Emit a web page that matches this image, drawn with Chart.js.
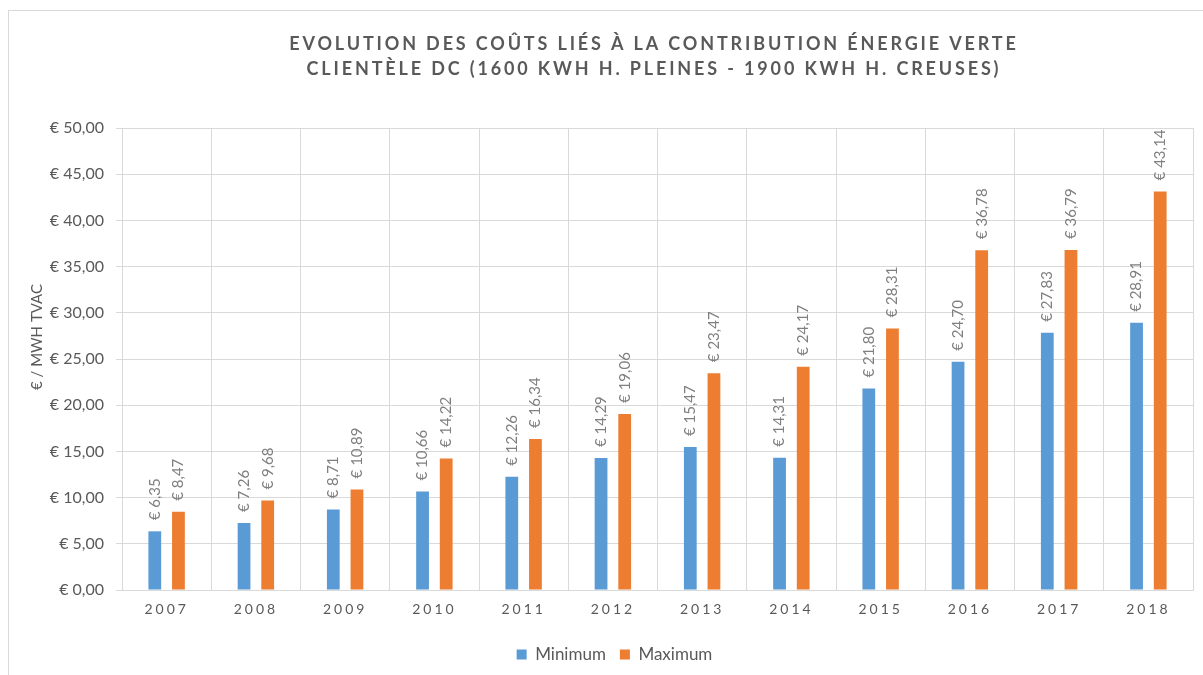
<!DOCTYPE html>
<html>
<head>
<meta charset="utf-8">
<script src="https://cdn.jsdelivr.net/npm/chart.js@4/dist/chart.umd.min.js"></script>
<style>
  html, body { margin: 0; padding: 0; background: #fff; }
  #chart { display: block; }
</style>
</head>
<body>
<canvas id="chart" width="1203" height="675"></canvas>
<script>
const years = ['2007', '2008', '2009', '2010', '2011', '2012', '2013', '2014', '2015', '2016', '2017', '2018'];
const minimum = [6.35, 7.26, 8.71, 10.66, 12.26, 14.29, 15.47, 14.31, 21.80, 24.70, 27.83, 28.91];
const maximum = [8.47, 9.68, 10.89, 14.22, 16.34, 19.06, 23.47, 24.17, 28.31, 36.78, 36.79, 43.14];
const titleLines = ['EVOLUTION DES COÛTS LIÉS À LA CONTRIBUTION ÉNERGIE VERTE', 'CLIENTÈLE DC (1600 KWH H. PLEINES - 1900 KWH H. CREUSES)'];
const yTitle = '€ / MWH TVAC';

const textColor = '#595959';
const gridColor = '#d9d9d9';
const fontFamily = 'Lato, "Open Sans", sans-serif';

function euro(v) {
  return '€ ' + v.toFixed(2).replace('.', ',');
}

// category axis with letter-spaced labels (like the Excel original)
class SpacedCategoryScale extends Chart.CategoryScale {
  drawLabels(chartArea) {
    const ctx = this.ctx;
    ctx.save();
    ctx.letterSpacing = '3px';
    super.drawLabels(chartArea);
    ctx.restore();
  }
}
SpacedCategoryScale.id = 'spacedCategory';
SpacedCategoryScale.defaults = Chart.CategoryScale.defaults;
Chart.register(SpacedCategoryScale);

const frame = {
  id: 'frame',
  beforeDraw(chart) {
    const ctx = chart.ctx;
    ctx.save();
    ctx.fillStyle = '#fff';
    ctx.fillRect(0, 0, chart.width, chart.height);
    ctx.strokeStyle = gridColor;
    ctx.lineWidth = 1;
    ctx.strokeRect(8.5, 10.5, 1300, 700);
    ctx.restore();
  },
  afterLayout(chart) {
    chart.legend.left += 18;
    chart.legend.right += 18;
  }
};

// title and y axis title, drawn by hand so they can be letter-spaced / placed like Excel
const texts = {
  id: 'texts',
  afterDraw(chart) {
    const ctx = chart.ctx;
    ctx.save();
    ctx.font = 'bold 18px ' + fontFamily;
    ctx.letterSpacing = '2.85px';
    ctx.fillStyle = textColor;
    ctx.textAlign = 'center';
    ctx.textBaseline = 'middle';
    titleLines.forEach((line, i) => ctx.fillText(line, 654, 44 + i * 25));
    ctx.letterSpacing = '0px';
    ctx.font = '15px ' + fontFamily;
    ctx.translate(37, 337);
    ctx.rotate(-Math.PI / 2);
    ctx.fillText(yTitle, 0, 0);
    ctx.restore();
  }
};

const barLabels = {
  id: 'barLabels',
  afterDatasetsDraw(chart) {
    const ctx = chart.ctx;
    ctx.save();
    ctx.font = '15px ' + fontFamily;
    ctx.fillStyle = '#7f7f7f';
    ctx.textAlign = 'left';
    ctx.textBaseline = 'middle';
    chart.data.datasets.forEach((ds, di) => {
      chart.getDatasetMeta(di).data.forEach((bar, i) => {
        ctx.save();
        ctx.translate(bar.x, bar.y - 11);
        ctx.rotate(-Math.PI / 2);
        ctx.fillText(euro(ds.data[i]), 0, 0);
        ctx.restore();
      });
    });
    ctx.restore();
  }
};

new Chart(document.getElementById('chart'), {
  type: 'bar',
  data: {
    labels: years,
    datasets: [
      { label: 'Minimum', data: minimum, backgroundColor: '#5b9bd5' },
      { label: 'Maximum', data: maximum, backgroundColor: '#ed7d31' }
    ]
  },
  options: {
    responsive: false,
    animation: false,
    devicePixelRatio: 1,
    categoryPercentage: 0.53,
    barPercentage: 0.54,
    layout: { padding: { top: 128, right: 10, bottom: 2, left: 0 } },
    plugins: {
      legend: {
        position: 'bottom',
        labels: {
          color: textColor,
          font: { family: fontFamily, size: 17 },
          boxWidth: 10,
          boxHeight: 10,
          padding: 14
        }
      },
      title: { display: false },
      tooltip: { enabled: false }
    },
    scales: {
      x: {
        type: 'spacedCategory',
        offset: true,
        grid: { offset: true, color: gridColor, drawTicks: false },
        border: { color: gridColor },
        ticks: { color: textColor, font: { family: fontFamily, size: 14 }, padding: 11 },
        afterFit(scale) { scale.height = 42; }
      },
      y: {
        min: 0,
        max: 50,
        ticks: {
          stepSize: 5,
          color: textColor,
          font: { family: fontFamily, size: 16 },
          padding: 12,
          callback: v => euro(v)
        },
        grid: { color: gridColor, tickLength: 6, tickColor: gridColor },
        border: { color: gridColor },
        afterFit(scale) { scale.width = 122; }
      }
    }
  },
  plugins: [frame, texts, barLabels]
});
</script>
</body>
</html>
